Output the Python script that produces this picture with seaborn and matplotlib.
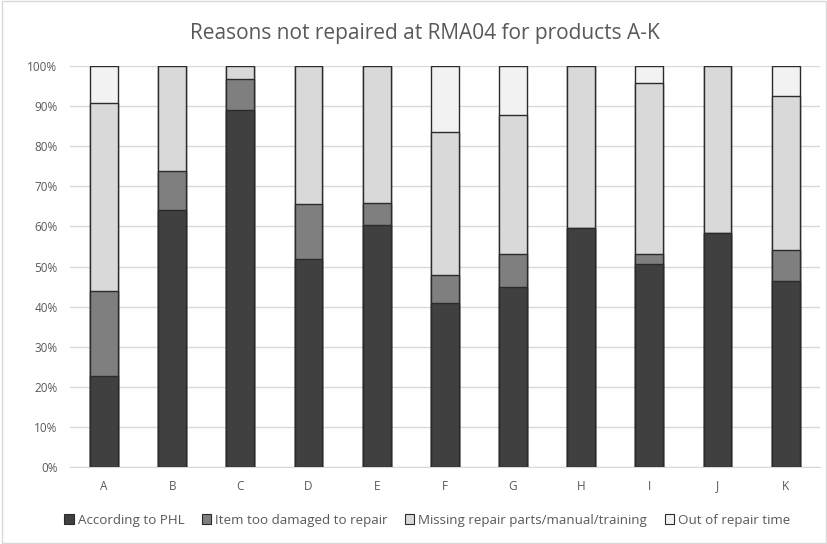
import seaborn as sns
import pandas as pd
import matplotlib.pyplot as plt
from matplotlib.patches import Patch, Rectangle
from matplotlib.ticker import PercentFormatter

# Data (percent of items per product)
products = ['A', 'B', 'C', 'D', 'E', 'F', 'G', 'H', 'I', 'J', 'K']
according_phl = [22.6, 64.2, 89.0, 51.9, 60.3, 41.0, 44.8, 59.7, 50.6, 58.4, 46.4]
too_damaged = [21.3, 9.7, 7.8, 13.6, 5.6, 6.8, 8.4, 0.0, 2.6, 0.0, 7.8]
missing_parts = [46.8, 26.1, 3.2, 34.5, 34.1, 35.8, 34.6, 40.3, 42.6, 41.6, 38.4]
out_of_time = [9.3, 0.0, 0.0, 0.0, 0.0, 16.4, 12.2, 0.0, 4.2, 0.0, 7.4]

series = ['According to PHL', 'Item too damaged to repair',
          'Missing repair parts/manual/training', 'Out of repair time']
colors = ['#404040', '#7f7f7f', '#d9d9d9', '#f2f2f2']

df = pd.DataFrame({
    'product': products,
    series[0]: according_phl,
    series[1]: too_damaged,
    series[2]: missing_parts,
    series[3]: out_of_time,
})
cum = df[series].cumsum(axis=1)

sns.set_style('white')
plt.rcParams['font.family'] = ['Open Sans', 'DejaVu Sans']

fig = plt.figure(figsize=(8.28, 5.44), dpi=100)
ax = fig.add_axes([0.0845, 0.1415, 0.9055, 0.7372])

# stacked bars: draw the cumulative totals from top segment down
for name, col in reversed(list(zip(series, colors))):
    sns.barplot(x=df['product'], y=cum[name], color=col, width=0.41,
                edgecolor='#2b2b2b', linewidth=1.0, saturation=1, ax=ax, zorder=3)

ax.set_ylim(0, 100)
ax.set_xlim(-0.5, len(products) - 0.5)
ax.set_yticks(range(0, 101, 10))
ax.yaxis.set_major_formatter(PercentFormatter(decimals=0))
ax.grid(axis='y', color='#d9d9d9', linewidth=1.0, zorder=0)
ax.set_axisbelow(True)
for s in ['left', 'right', 'top']:
    ax.spines[s].set_visible(False)
ax.spines['bottom'].set_color('#d9d9d9')
ax.tick_params(axis='both', length=0, labelsize=8.5, labelcolor='#595959', pad=9)
ax.set_xlabel('')
ax.set_ylabel('')

fig.suptitle('Reasons not repaired at RMA04 for products A-K', fontsize=15,
             color='#595959', x=0.513, y=0.939, va='center')

handles = [Patch(facecolor=c, edgecolor='#2b2b2b', linewidth=0.8) for c in colors]
fig.legend(handles, series, loc='center', bbox_to_anchor=(0.516, 0.044), ncol=4,
           frameon=False, fontsize=9.6, labelcolor='#595959', handlelength=0.7,
           handleheight=0.7, handletextpad=0.3, columnspacing=1.3)

fig.patches.append(Rectangle((0.002, 0.002), 0.996, 0.996, transform=fig.transFigure,
                             fill=False, edgecolor='#d9d9d9', linewidth=1))

fig.savefig('out.png', dpi=100)
